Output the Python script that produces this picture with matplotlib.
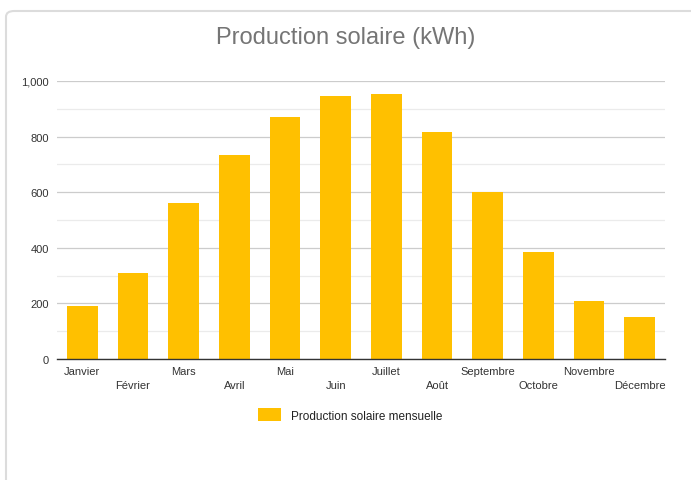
import matplotlib
matplotlib.use("Agg")
from matplotlib import pyplot as plt
from matplotlib.patches import FancyBboxPatch

MONTHS = ['Janvier', 'Février', 'Mars', 'Avril', 'Mai', 'Juin',
          'Juillet', 'Août', 'Septembre', 'Octobre', 'Novembre', 'Décembre']
PRODUCTION = [190, 310, 560, 735, 870, 945, 955, 815, 600, 385, 210, 150]
Y_TICKS = [0, 200, 400, 600, 800, 1000]
Y_LABELS = ['0', '200', '400', '600', '800', '1,000']

BAR_COLOR = '#FFC000'
W, H = 691, 481

plt.rcParams['font.family'] = ['Liberation Sans', 'DejaVu Sans']

fig = plt.figure(figsize=(W / 100, H / 100), dpi=100)

# card frame (rounded, running off right and bottom edges)
card = FancyBboxPatch((6 / W, -0.2), 1.2, 1 - 12 / H + 0.2,
                      boxstyle='round,pad=0,rounding_size=0.012',
                      transform=fig.transFigure, facecolor='white',
                      edgecolor='#dcdcdc', linewidth=1.5, zorder=-5)
fig.patches.append(card)

ax = fig.add_axes([57 / W, 1 - 360 / H, (665 - 57) / W, (360 - 82) / H])
ax.set_zorder(2)
ax.patch.set_alpha(0)

x = list(range(len(MONTHS)))
ax.bar(x, PRODUCTION, width=0.61, color=BAR_COLOR, zorder=3,
       label='Production solaire mensuelle')

ax.set_xlim(-0.5, len(MONTHS) - 0.5)
ax.set_ylim(0, 1000)

ax.set_yticks(Y_TICKS)
ax.set_yticklabels(Y_LABELS)
ax.set_yticks(range(100, 1000, 200), minor=True)
ax.grid(axis='y', which='major', color='#cccccc', linewidth=0.9, zorder=0)
ax.grid(axis='y', which='minor', color='#ebebeb', linewidth=0.9, zorder=0)

labels = [m if i % 2 == 0 else '\n' + m for i, m in enumerate(MONTHS)]
ax.set_xticks(x)
ax.set_xticklabels(labels, linespacing=1.55)

ax.tick_params(axis='both', which='both', length=0, labelsize=8,
               labelcolor='#333333')
ax.tick_params(axis='x', pad=5)
ax.tick_params(axis='y', pad=6)

for side in ['top', 'right', 'left']:
    ax.spines[side].set_visible(False)
ax.spines['bottom'].set_color('#333333')
ax.spines['bottom'].set_linewidth(1)
ax.spines['bottom'].set_zorder(4)

fig.text(0.5, 1 - 38 / H, 'Production solaire (kWh)', ha='center',
         va='center', fontsize=17, color='#757575')

fig.legend(loc='center', bbox_to_anchor=(350 / W, 1 - 416 / H), frameon=False,
           fontsize=8.5, handlelength=1.9, handleheight=1.25,
           handletextpad=0.85, labelcolor='#222222')

fig.savefig('out.png', dpi=100)
